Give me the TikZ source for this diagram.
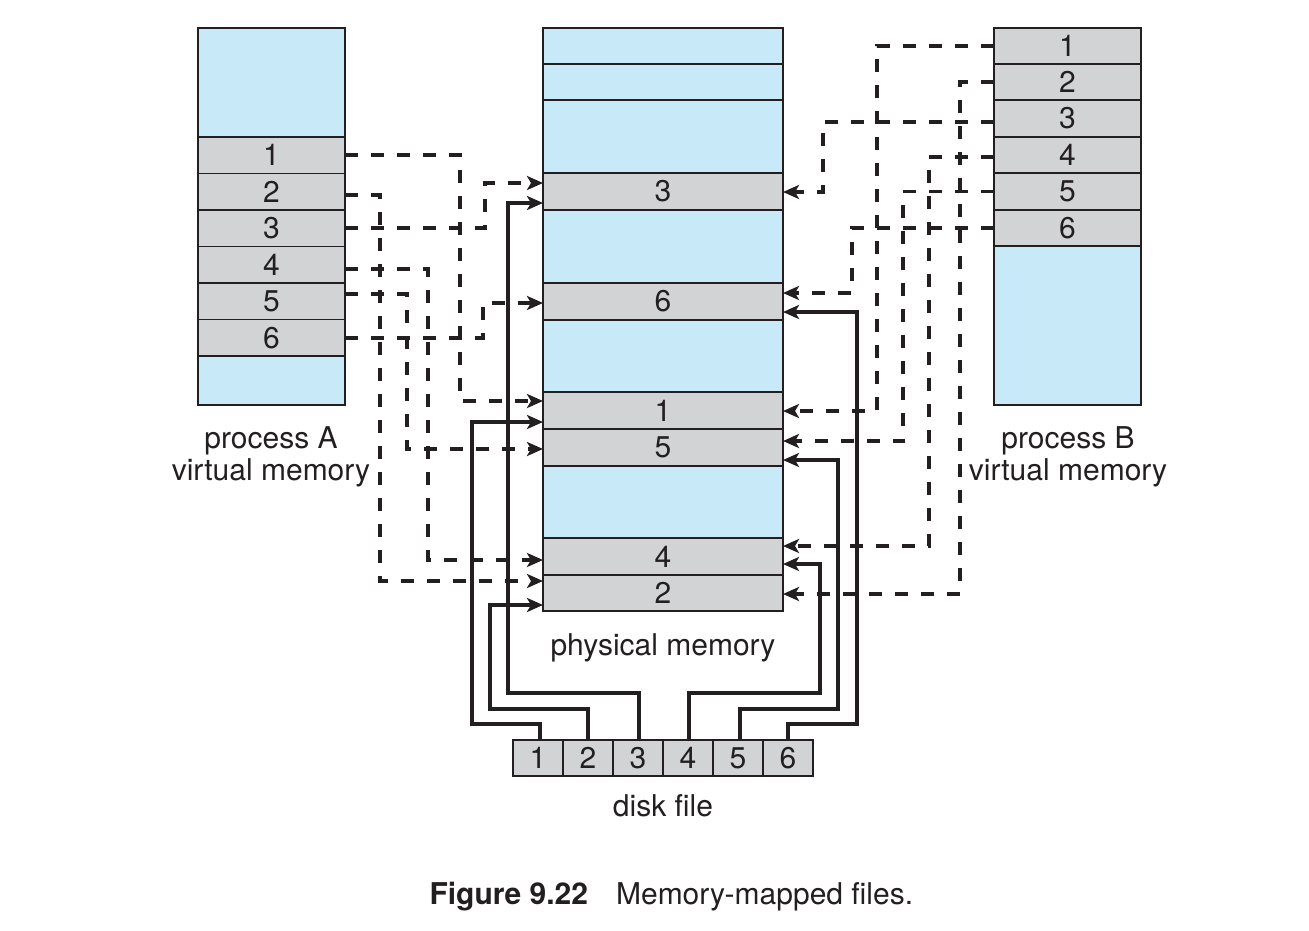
\documentclass[tikz,border=0pt]{standalone}
\usepackage{fontspec}
\setmainfont{TeX Gyre Heros}
\usetikzlibrary{arrows.meta,calc}
\definecolor{memblue}{HTML}{C7E9F8}
\definecolor{memgray}{HTML}{D1D3D4}
\definecolor{ink}{HTML}{231F20}
\begin{document}
\begin{tikzpicture}[x=1pt,y=-1pt,
  font=\fontsize{30}{35}\selectfont,
  cell/.style={draw=ink, line width=1.8pt, inner sep=0pt, outer sep=0pt, anchor=north west, text=ink},
  colA/.style={cell, minimum width=147pt},
  colP/.style={cell, minimum width=240pt},
  colD/.style={cell, minimum width=50pt, minimum height=36pt, fill=memgray},
  free/.style={fill=memblue},
  page/.style={fill=memgray},
  tip/.tip={Stealth[length=16pt,width=14pt,inset=4pt]},
  mapline/.style={draw=ink, line width=3.6pt, dash pattern=on 13pt off 13pt, -tip},
  loadline/.style={draw=ink, line width=3.4pt, -tip},
  lbl/.style={anchor=base, text=ink}]
\useasboundingbox (0,0) rectangle (1309,930);

% process A
\node[colA, free, minimum height=109pt] (A0) at (198,28) {};
\node[colA, page, minimum height=36.5pt] (A1) at (198,137) {1};
\node[colA, page, minimum height=36.5pt] (A2) at (198,173.5) {2};
\node[colA, page, minimum height=36.5pt] (A3) at (198,210) {3};
\node[colA, page, minimum height=36.5pt] (A4) at (198,246.5) {4};
\node[colA, page, minimum height=36.5pt] (A5) at (198,283) {5};
\node[colA, page, minimum height=36.5pt] (A6) at (198,319.5) {6};
\node[colA, free, minimum height=49pt] (A7) at (198,356) {};

% physical memory
\node[colP, free, minimum height=36pt] (Pa) at (543,28) {};
\node[colP, free, minimum height=36pt] (Pb) at (543,64) {};
\node[colP, free, minimum height=73pt] (Pc) at (543,100) {};
\node[colP, page, minimum height=37pt] (P3) at (543,173) {3};
\node[colP, free, minimum height=73pt] (Pd) at (543,210) {};
\node[colP, page, minimum height=37pt] (P6) at (543,283) {6};
\node[colP, free, minimum height=72pt] (Pe) at (543,320) {};
\node[colP, page, minimum height=37pt] (P1) at (543,392) {1};
\node[colP, page, minimum height=37pt] (P5) at (543,429) {5};
\node[colP, free, minimum height=72pt] (Pf) at (543,466) {};
\node[colP, page, minimum height=37pt] (P4) at (543,538) {4};
\node[colP, page, minimum height=36pt] (P2) at (543,575) {2};

% process B
\node[colA, page, minimum height=36pt] (B1) at (994,28) {1};
\node[colA, page, minimum height=36pt] (B2) at (994,64) {2};
\node[colA, page, minimum height=37pt] (B3) at (994,100) {3};
\node[colA, page, minimum height=36pt] (B4) at (994,137) {4};
\node[colA, page, minimum height=37pt] (B5) at (994,173) {5};
\node[colA, page, minimum height=36pt] (B6) at (994,210) {6};
\node[colA, free, minimum height=159pt] (B7) at (994,246) {};

% disk file
\node[colD] (D1) at (513,740) {1};
\node[colD] (D2) at (563,740) {2};
\node[colD] (D3) at (613,740) {3};
\node[colD] (D4) at (663,740) {4};
\node[colD] (D5) at (713,740) {5};
\node[colD] (D6) at (763,740) {6};

% labels
\node[lbl] (labA1) at (271,448) {process A};
\node[lbl] (labA2) at (271,480) {virtual memory};
\node[lbl] (labB1) at (1068,448) {process B};
\node[lbl] (labB2) at (1068,480) {virtual memory};
\node[lbl] (labP) at (663,655) {physical memory};
\node[lbl] (labD) at (663,816) {disk file};
\node[anchor=base west, text=ink] (cap) at (426,904) {\textbf{Figure 9.22}\hspace{28pt}Memory-mapped files.};

% process A mappings
\draw[mapline] (A1.east) -| (460,401) -- (P1.west |- 0,401);
\draw[mapline] ($(A2.east)+(0,3)$) -| (380,581) -- (P2.west |- 0,581);
\draw[mapline] (A3.east) -| (485,183) -- (P3.west |- 0,183);
\draw[mapline] ($(A4.east)+(0,4)$) -| (428,560) -- (P4.west |- 0,560);
\draw[mapline] ($(A5.east)+(0,-7)$) -| (407,449) -- (P5.west |- 0,449);
\draw[mapline] (A6.east) -| (483,303) -- (P6.west |- 0,303);

% process B mappings
\draw[mapline] (B1.west) -| (877,411) -- (P1.east |- 0,411);
\draw[mapline] (B2.west) -| (960,594) -- (P2.east |- 0,594);
\draw[mapline] ($(B3.west)+(0,3.5)$) -| (823,192) -- (P3.east |- 0,192);
\draw[mapline] ($(B4.west)+(0,2)$) -| (929,546) -- (P4.east |- 0,546);
\draw[mapline] (B5.west) -| (903,441) -- (P5.east |- 0,441);
\draw[mapline] (B6.west) -| (852,293) -- (P6.east |- 0,293);

% disk loads
\draw[loadline] ($(D1.north)+(2,0)$) |- (472,724) |- (P1.west |- 0,422);
\draw[loadline] (D2.north) |- (490,709) |- (P2.west |- 0,605);
\draw[loadline] ($(D3.north)+(1,0)$) |- (508,693) |- (P3.west |- 0,203);
\draw[loadline] ($(D4.north)+(1,0)$) |- (820,693) |- (P4.east |- 0,564);
\draw[loadline] ($(D5.north)+(2,0)$) |- (838,709) |- (P5.east |- 0,460);
\draw[loadline] (D6.north) |- (857,724) |- (P6.east |- 0,312);
\end{tikzpicture}
\end{document}
